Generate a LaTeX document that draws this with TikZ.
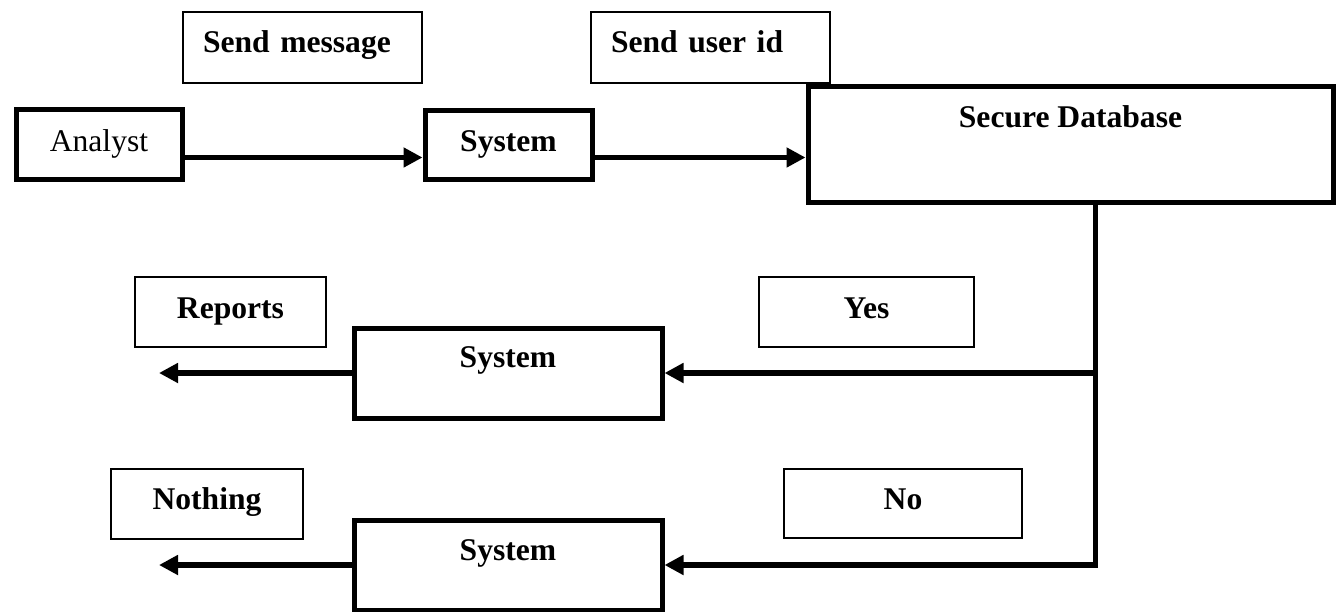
\documentclass[tikz,border=0pt]{standalone}
\usepackage{fontspec}
\setmainfont{Liberation Serif}
\usetikzlibrary{arrows.meta}
\begin{document}
\begin{tikzpicture}[x=1pt,y=-1pt,
  basebox/.style={draw, rectangle, anchor=north west, inner sep=0pt, font=\fontsize{31.6}{36}\selectfont\bfseries},
  thickbox/.style={basebox, line width=5pt},
  thinbox/.style={basebox, line width=2pt},
  leftlabel/.style={thinbox, text width=199pt, inner xsep=20pt, align=left, text height=41pt, text depth=30pt},
  conn/.style={line width=5.5pt, line join=miter},
  arr/.style={conn, -{Triangle[length=19pt,width=19pt]}},
]
\useasboundingbox (0,0) rectangle (1340,612);

% top row
\node[thickbox, font=\fontsize{31.6}{36}\selectfont, minimum width=166pt, text height=41.5pt, text depth=28.5pt] (analyst) at (13.5,107.5) {Analyst};
\node[leftlabel] (sendmsg) at (182,11) {Send message};
\node[leftlabel] (senduid) at (590,11) {Send user id};
\node[thickbox, minimum width=167pt, text height=40.5pt, text depth=28.5pt] (sys1) at (422.5,108.5) {System};
\node[thickbox, minimum width=525pt, text height=40.5pt, text depth=75.5pt] (db) at (805.5,84.5) {Secure Database};

% middle row
\node[thinbox, minimum width=191pt, text height=41pt, text depth=29pt] (reports) at (134,276) {Reports};
\node[thinbox, minimum width=215pt, text height=41pt, text depth=29pt] (yes) at (758,276) {Yes};
\node[thickbox, minimum width=308pt, text height=39pt, text depth=51pt] (sys2) at (351.5,325.5) {System};

% bottom row
\node[thinbox, minimum width=192pt, text height=40pt, text depth=30pt] (nothing) at (110,468) {Nothing};
\node[thinbox, minimum width=238pt, text height=40pt, text depth=29pt] (no) at (783,468) {No};
\node[thickbox, minimum width=308pt, text height=40pt, text depth=50pt] (sys3) at (351.5,517.5) {System};

% connectors
\draw[arr] ([yshift=-12.5pt]analyst.east) -- ([yshift=-12.5pt]analyst.east -| sys1.west);
\draw[arr] ([yshift=-12pt]sys1.east) -- ([yshift=-12pt]sys1.east -| db.west);
\coordinate (j) at ([xshift=25pt]db.south);
\draw[arr] (j) |- (sys3.east);
\draw[arr] (j |- sys2.east) -- (sys2.east);
\coordinate (out1) at (159,371);
\coordinate (out2) at (159,563);
\draw[arr] (sys2.west) -- (sys2.west -| out1);
\draw[arr] (sys3.west) -- (sys3.west -| out2);
\end{tikzpicture}
\end{document}
